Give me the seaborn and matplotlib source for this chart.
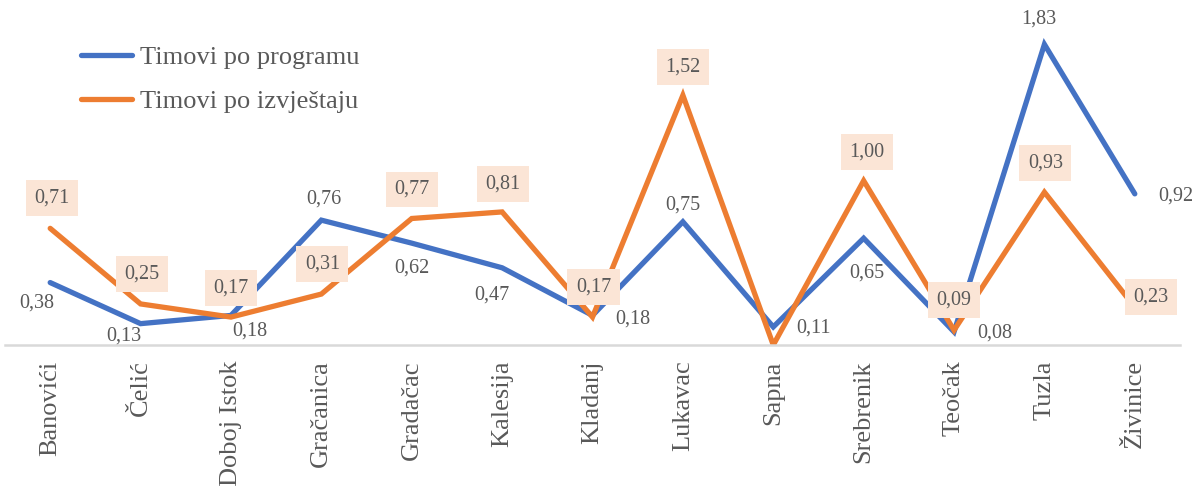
import pandas as pd
import matplotlib.pyplot as plt
import seaborn as sns

# data
opcine = ['Banovići', 'Čelić', 'Doboj Istok', 'Gračanica', 'Gradačac', 'Kalesija',
          'Kladanj', 'Lukavac', 'Sapna', 'Srebrenik', 'Teočak', 'Tuzla', 'Živinice']
po_programu = [0.38, 0.13, 0.18, 0.76, 0.62, 0.47, 0.18, 0.75, 0.11, 0.65, 0.08, 1.83, 0.92]
po_izvjestaju = [0.71, 0.25, 0.17, 0.31, 0.77, 0.81, 0.17, 1.52, 0.00, 1.00, 0.09, 0.93, 0.23]
serije = ['Timovi po programu', 'Timovi po izvještaju']

# label offsets in pixels (dx, dy) from the point
off_plavo = [(-13, -20), (-17, -12), (19, -16), (3, 21), (0, -25), (-10, -27), (40, -4),
             (0, 17), (40, -1), (3, -35), (41, -1), (-6, 25), (41, -2)]
off_narandz = [(2, 30), (1, 30), (0, 29), (1, 30), (0, 29), (1, 28), (1, 30),
               (0, 28), None, (3, 29), (0, 30), (1, 29), (16, 10)]

sns.set_style('white')
plt.rcParams['font.family'] = ['Liberation Serif', 'DejaVu Serif']

df = pd.DataFrame({
    'Opcina': opcine * 2,
    'Vrijednost': po_programu + po_izvjestaju,
    'Serija': [serije[0]] * len(opcine) + [serije[1]] * len(opcine),
})

fig = plt.figure(figsize=(11.95, 4.86), dpi=100)
ax = fig.add_axes([5 / 1195, 1 - 345 / 486, 1175 / 1195, 345 / 486])

blue, orange = '#4472C4', '#ED7D31'
txt = '#595959'
sns.lineplot(data=df, x='Opcina', y='Vrijednost', hue='Serija', palette=[blue, orange],
             linewidth=3.8, sort=False, ax=ax, legend=True)
for ln in ax.lines:
    ln.set_solid_capstyle('round')
    ln.set_solid_joinstyle('miter')

ax.set_xlim(-0.5, len(opcine) - 0.5)
ax.set_ylim(0, 2.1)
ax.set_xlabel('')
ax.set_ylabel('')
ax.set_yticks([])
for s in ['top', 'right', 'left']:
    ax.spines[s].set_visible(False)
ax.spines['bottom'].set_color('#D9D9D9')
ax.spines['bottom'].set_linewidth(1.8)
ax.tick_params(axis='x', length=0, pad=11, labelsize=19, labelcolor=txt)
plt.setp(ax.get_xticklabels(), rotation=90, va='top', ha='center')

px = 0.72  # pixels -> points
for i, v in enumerate(po_programu):
    dx, dy = off_plavo[i]
    ax.annotate(f'{v:.2f}'.replace('.', ','), (i, v), xytext=(dx * px, dy * px),
                textcoords='offset points', ha='center', va='center', fontsize=14.5, color=txt)
for i, v in enumerate(po_izvjestaju):
    if off_narandz[i] is None:
        continue
    dx, dy = off_narandz[i]
    ax.annotate(f'{v:.2f}'.replace('.', ','), (i, v), xytext=(dx * px, dy * px),
                textcoords='offset points', ha='center', va='center', fontsize=14.5, color=txt,
                bbox=dict(boxstyle='square,pad=0.42', fc='#FBE5D6', ec='none'))

leg = ax.legend(loc='upper left', bbox_to_anchor=(57 / 1195, 1 - 22 / 486),
                bbox_transform=fig.transFigure, frameon=False, fontsize=19,
                handlelength=1.95, handletextpad=0.3, labelspacing=0.78)
for t in leg.get_texts():
    t.set_color(txt)
for h in leg.get_lines():
    h.set_linewidth(3.8)
    h.set_solid_capstyle('round')

fig.savefig('out.png', dpi=100)
